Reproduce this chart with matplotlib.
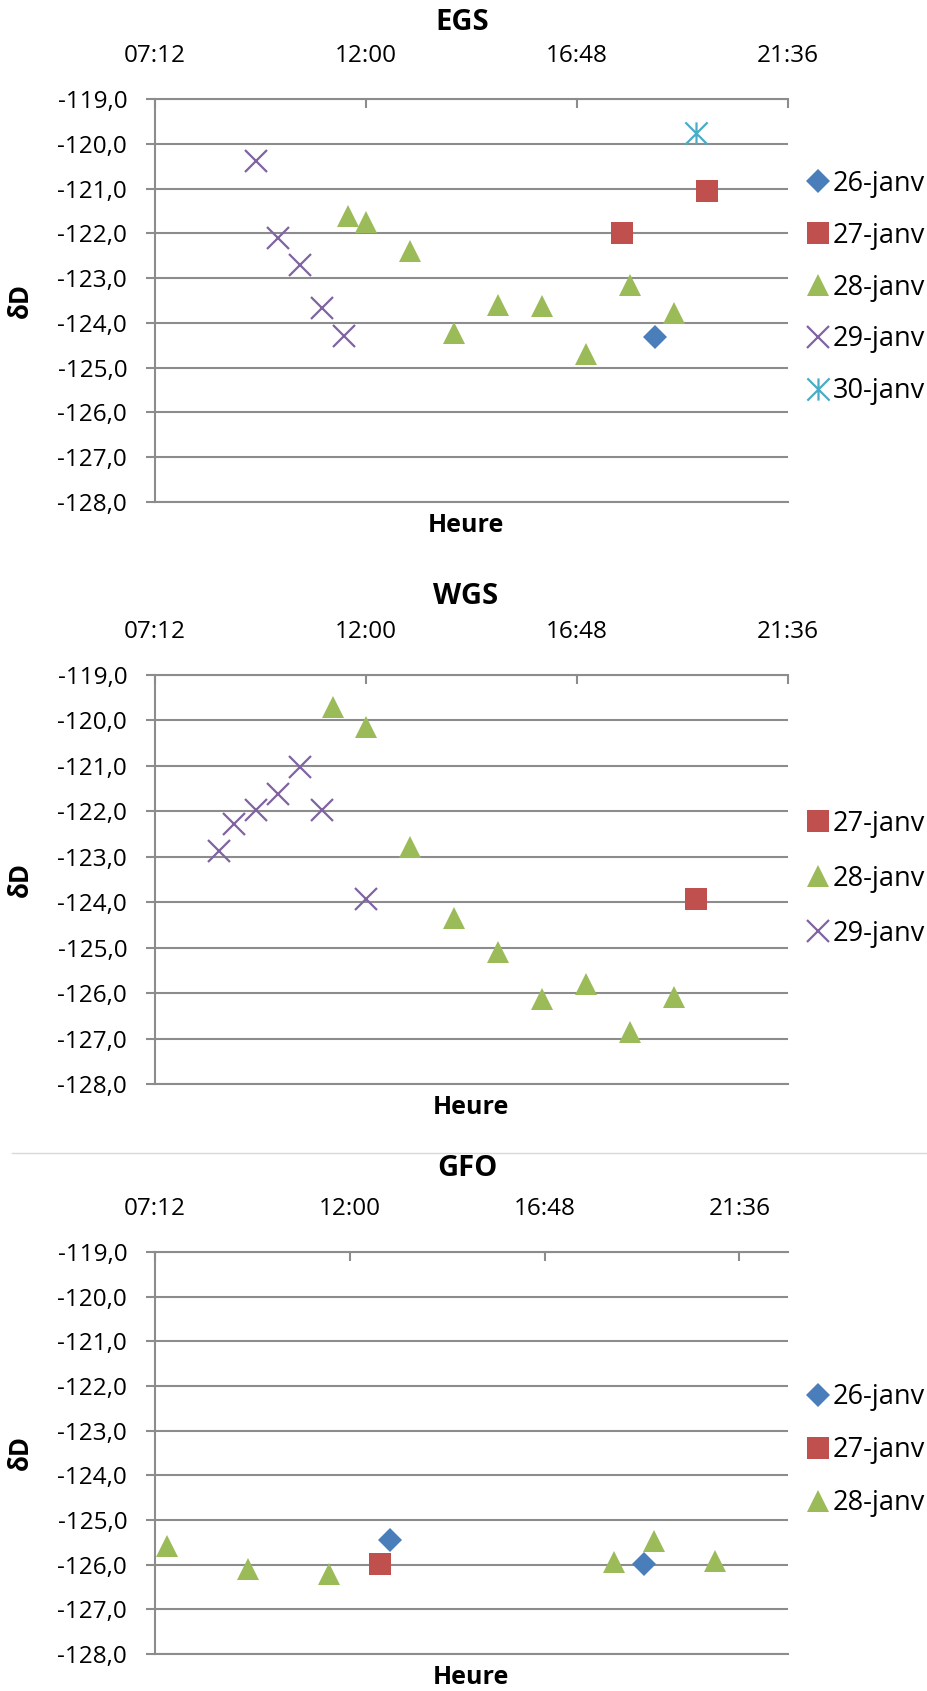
import matplotlib
matplotlib.use('Agg')
import matplotlib.pyplot as plt
from matplotlib.path import Path
from matplotlib.lines import Line2D
from matplotlib.ticker import FuncFormatter

plt.rcParams['font.family'] = ['Open Sans', 'DejaVu Sans']

# ---- data (heure, deltaD) ----
egs_26_t = ['18:35']
egs_26_v = [-124.31]
egs_27_t = ['17:50', '19:45']
egs_27_v = [-121.99, -121.06]
egs_28_t = ['11:35', '12:00', '13:00', '14:00', '15:00', '16:00', '17:00', '18:00', '19:00']
egs_28_v = [-121.61, -121.75, -122.39, -124.22, -123.59, -123.62, -124.70, -123.16, -123.77]
egs_29_t = ['09:30', '10:00', '10:30', '11:00', '11:30']
egs_29_v = [-120.38, -122.11, -122.70, -123.66, -124.30]
egs_30_t = ['19:30']
egs_30_v = [-119.76]

wgs_27_t = ['19:30']
wgs_27_v = [-123.93]
wgs_28_t = ['11:15', '12:00', '13:00', '14:00', '15:00', '16:00', '17:00', '18:00', '19:00']
wgs_28_v = [-119.70, -120.14, -122.78, -124.35, -125.09, -126.13, -125.80, -126.86, -126.09]
wgs_29_t = ['08:40', '09:00', '09:30', '10:00', '10:30', '11:00', '12:00']
wgs_29_v = [-122.88, -122.28, -121.97, -121.61, -121.03, -121.97, -123.93]

gfo_26_t = ['13:00', '19:15']
gfo_26_v = [-125.44, -125.98]
gfo_27_t = ['12:45']
gfo_27_v = [-125.98]
gfo_28_t = ['07:30', '09:30', '11:30', '18:30', '19:30', '21:00']
gfo_28_v = [-125.58, -126.09, -126.20, -125.93, -125.46, -125.91]

x_ticks = [7.2, 12.0, 16.8, 21.6]
x_labels = ['07:12', '12:00', '16:48', '21:36']


def hours(t):
    h, m = t.split(':')
    return int(h) + int(m) / 60.0


# Excel-like star marker (x + vertical bar)
star = Path([(-0.5, -0.5), (0.5, 0.5), (-0.5, 0.5), (0.5, -0.5), (0, -0.5), (0, 0.5)],
            [Path.MOVETO, Path.LINETO, Path.MOVETO, Path.LINETO, Path.MOVETO, Path.LINETO])

styles = {
    '26-janv': dict(marker='D', color='#4A7EBB', ms=12.5, mew=0),
    '27-janv': dict(marker='s', color='#C0504D', ms=16, mew=0),
    '28-janv': dict(marker='^', color='#9BBB59', ms=16.5, mew=0),
    '29-janv': dict(marker='x', color='#8064A2', ms=15.5, mew=1.6),
    '30-janv': dict(marker=star, color='#4BACC6', ms=16, mew=1.6),
}

charts = [
    ('EGS', [99, 502], 0.6, [('26-janv', egs_26_t, egs_26_v), ('27-janv', egs_27_t, egs_27_v),
                            ('28-janv', egs_28_t, egs_28_v), ('29-janv', egs_29_t, egs_29_v),
                            ('30-janv', egs_30_t, egs_30_v)],
     (462, 23), 0.4905, 0.532, 0.88),
    ('WGS', [675, 1084], 0.6, [('27-janv', wgs_27_t, wgs_27_v), ('28-janv', wgs_28_t, wgs_28_v),
                              ('29-janv', wgs_29_t, wgs_29_v)],
     (466, 597), 0.499, 0.502, 1.0),
    ('GFO', [1252, 1654], 0.65, [('26-janv', gfo_26_t, gfo_26_v), ('27-janv', gfo_27_t, gfo_27_v),
                                ('28-janv', gfo_28_t, gfo_28_v)],
     (467, 1168), 0.499, 0.507, 0.93),
]

W, H = 928, 1691
fig = plt.figure(figsize=(W / 100, H / 100), dpi=100)
grid_col = '#8c8c8c'

for name, (top, bot), span, series, (tx, ty), hx, leg_y, leg_sp in charts:
    ax = fig.add_axes([155 / W, 1 - bot / H, 633 / W, (bot - top) / H])
    for lab, ts, vs in series:
        st = styles[lab]
        mfc = 'none' if lab in ('29-janv', '30-janv') else st['color']
        ax.plot([hours(t) for t in ts], vs, linestyle='none', marker=st['marker'],
                ms=st['ms'], mfc=mfc, mec=st['color'], mew=st['mew'], label=lab,
                clip_on=False, zorder=3)

    ax.set_xlim(7.2, 7.2 + span * 24)
    ax.set_ylim(-128, -119)
    ax.set_xticks(x_ticks)
    ax.set_xticklabels(x_labels)
    ax.set_yticks(range(-128, -118))
    ax.yaxis.set_major_formatter(FuncFormatter(lambda v, p: f'{v:.1f}'.replace('.', ',')))

    ax.xaxis.tick_top()
    ax.tick_params(axis='x', direction='in', length=6.3, width=1.5, color=grid_col,
                   labelsize=17.5, pad=22)
    ax.tick_params(axis='y', direction='out', length=6.5, width=1.5, color=grid_col,
                   labelsize=17.5, pad=13.5)
    ax.grid(axis='y', color=grid_col, lw=1.5)
    ax.set_axisbelow(True)
    for s in ('left', 'top', 'bottom'):
        ax.spines[s].set_color(grid_col)
        ax.spines[s].set_linewidth(1.5)
    ax.spines['right'].set_visible(False)

    ax.set_ylabel('δD', fontsize=18.5, fontweight='bold')
    ax.yaxis.set_label_coords(-0.191, 0.5)
    ax.set_xlabel('Heure', fontsize=18, fontweight='bold')
    ax.xaxis.set_label_position('bottom')
    ax.xaxis.label.set_va('center')
    ax.xaxis.set_label_coords(hx, -0.058)

    ax.legend(loc='center left', bbox_to_anchor=(1.0296, leg_y), frameon=False,
              fontsize=19.5, handlelength=0.85, handletextpad=0.12, borderpad=0,
              borderaxespad=0, labelspacing=leg_sp, numpoints=1)

    fig.text(tx / W, 1 - ty / H, name, ha='center', va='center', fontsize=21,
             fontweight='bold')

# faint border line between the second and third chart
fig.add_artist(Line2D([12 / W, 1], [1 - 1153 / H] * 2, color='#d9d9d9', lw=1))

fig.savefig('out.png', dpi=100)
